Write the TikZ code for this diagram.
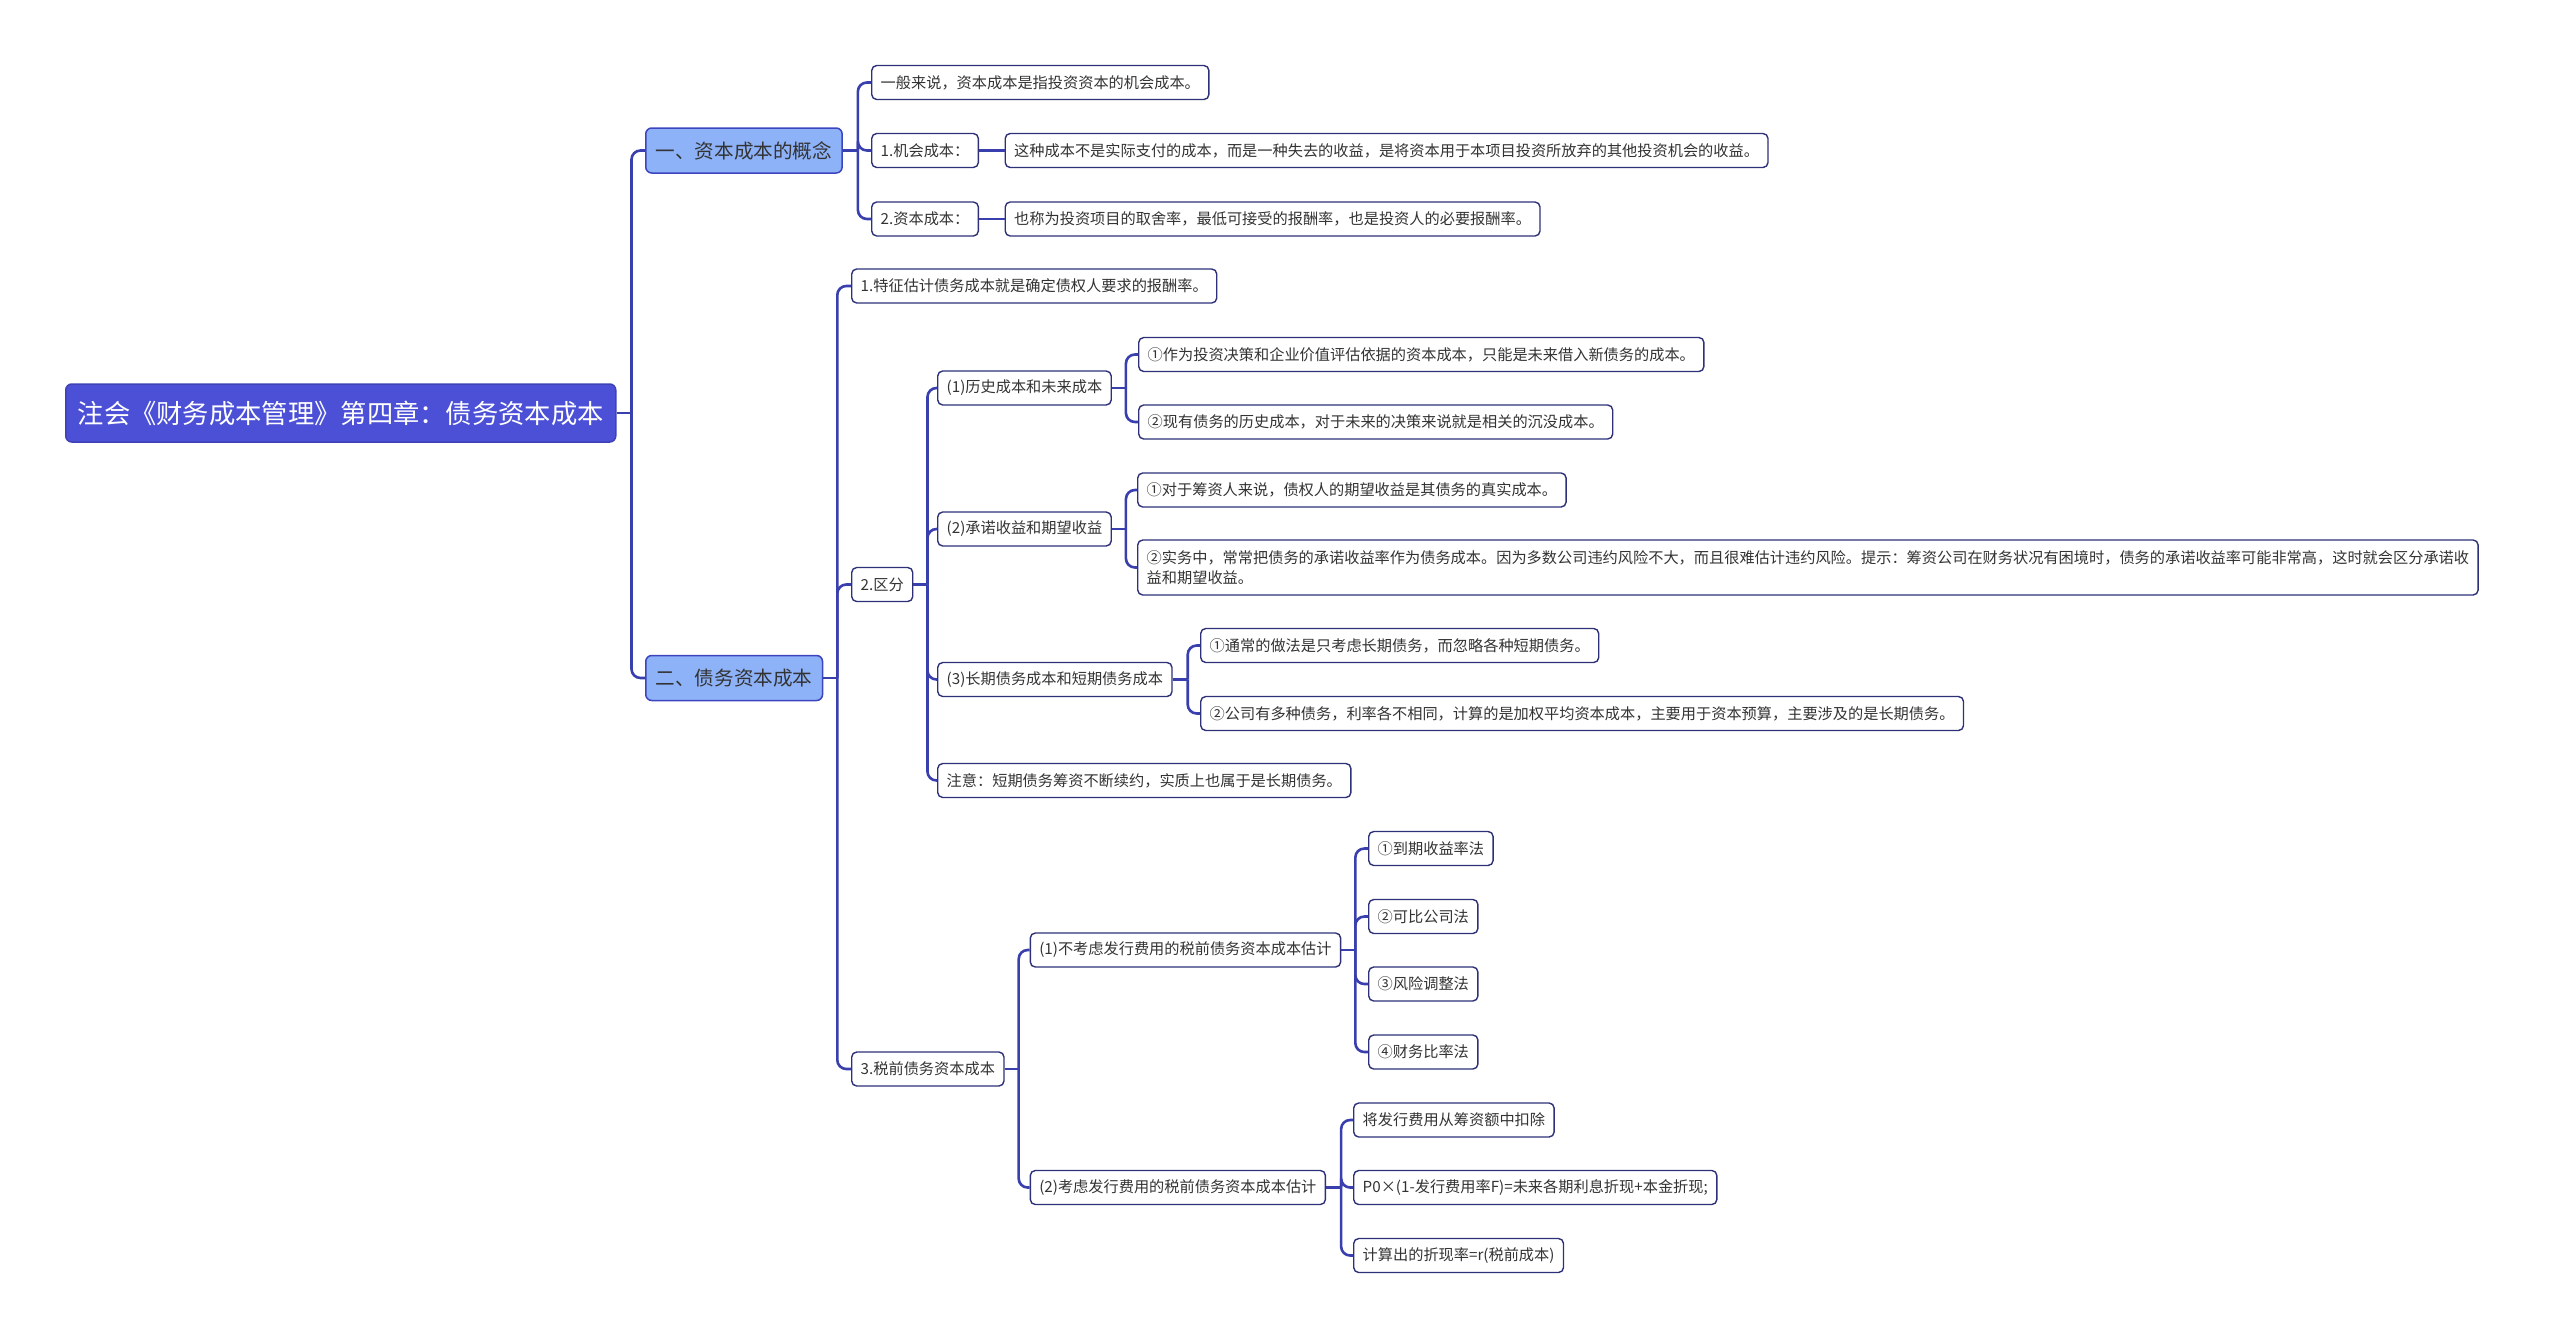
\documentclass[tikz,border=0pt]{standalone}
\usepackage{fontspec}
\setmainfont{Noto Sans CJK SC}
\usepackage{tikz}
\definecolor{rootfill}{HTML}{4B50D6}
\definecolor{rootline}{HTML}{3E42B5}
\definecolor{topicfill}{HTML}{8DB2F8}
\definecolor{topicline}{HTML}{3D45BE}
\definecolor{leafline}{HTML}{2E3178}
\definecolor{linkc}{HTML}{3A3FAE}
\definecolor{textc}{HTML}{333333}

\begin{document}
\begin{tikzpicture}[x=1pt,y=-1pt,
    link/.style={draw=linkc, line width=2.6pt},
    elbow/.style={link, rounded corners=9pt},
    root/.style={anchor=west, fill=rootfill, draw=rootline, line width=1.5pt, rounded corners=6pt,
        text=white, font=\fontsize{26.3}{31}\selectfont, inner xsep=12pt, minimum height=58pt},
    topic/.style={anchor=west, fill=topicfill, draw=topicline, line width=1.5pt, rounded corners=6pt,
        text=textc, font=\fontsize{19.6}{23}\selectfont, inner xsep=10pt, minimum height=45pt},
    leaf/.style={anchor=west, fill=white, draw=leafline, line width=1.4pt, rounded corners=5pt,
        text=textc, font=\fontsize{15.2}{20}\selectfont, inner xsep=9pt, minimum height=34pt}]
  \useasboundingbox (0,0) rectangle (2560,1339);

  % root and the two main topics
  \node[root] (root) at (65,413) {注会《财务成本管理》第四章：债务资本成本};
  \node[topic] (ta) at (645,150.5) {一、资本成本的概念};
  \node[topic] (tb) at (645,678) {二、债务资本成本};

  % 一、资本成本的概念
  \node[leaf] (a1) at (871,82.5) {一般来说，资本成本是指投资资本的机会成本。};
  \node[leaf] (a2) at (871,150.5) {1.机会成本：};
  \node[leaf] (a2x) at (1004.5,150.5) {这种成本不是实际支付的成本，而是一种失去的收益，是将资本用于本项目投资所放弃的其他投资机会的收益。};
  \node[leaf] (a3) at (871,219) {2.资本成本：};
  \node[leaf] (a3x) at (1004.5,219) {也称为投资项目的取舍率，最低可接受的报酬率，也是投资人的必要报酬率。};

  % 二、债务资本成本
  \node[leaf] (b1) at (851,286) {1.特征估计债务成本就是确定债权人要求的报酬率。};
  \node[leaf] (b2) at (851,584.5) {2.区分};
  \node[leaf] (b3) at (851,1069) {3.税前债务资本成本};

  % 2.区分
  \node[leaf] (hist) at (937,388) {(1)历史成本和未来成本};
  \node[leaf] (hist1) at (1138,354.5) {①作为投资决策和企业价值评估依据的资本成本，只能是未来借入新债务的成本。};
  \node[leaf] (hist2) at (1138,422) {②现有债务的历史成本，对于未来的决策来说就是相关的沉没成本。};
  \node[leaf] (yield) at (937,529) {(2)承诺收益和期望收益};
  \node[leaf] (yield1) at (1137,490) {①对于筹资人来说，债权人的期望收益是其债务的真实成本。};
  \node[leaf, align=left, minimum height=55pt] (yield2) at (1137,567.5)
    {②实务中，常常把债务的承诺收益率作为债务成本。因为多数公司违约风险不大，而且很难估计违约风险。提示：筹资公司在财务状况有困境时，债务的承诺收益率可能非常高，这时就会区分承诺收\\益和期望收益。};
  \node[leaf] (term) at (937,679.5) {(3)长期债务成本和短期债务成本};
  \node[leaf] (term1) at (1200,645.5) {①通常的做法是只考虑长期债务，而忽略各种短期债务。};
  \node[leaf] (term2) at (1200,713.5) {②公司有多种债务，利率各不相同，计算的是加权平均资本成本，主要用于资本预算，主要涉及的是长期债务。};
  \node[leaf] (note) at (937,780.5) {注意：短期债务筹资不断续约，实质上也属于是长期债务。};

  % 3.税前债务资本成本
  \node[leaf] (nofee) at (1029.6,950) {(1)不考虑发行费用的税前债务资本成本估计};
  \node[leaf] (m1) at (1368,848.5) {①到期收益率法};
  \node[leaf] (m2) at (1368,916.5) {②可比公司法};
  \node[leaf] (m3) at (1368,984) {③风险调整法};
  \node[leaf] (m4) at (1368,1052) {④财务比率法};
  \node[leaf] (fee) at (1029.6,1187.5) {(2)考虑发行费用的税前债务资本成本估计};
  \node[leaf] (f1) at (1353,1120) {将发行费用从筹资额中扣除};
  \node[leaf] (f2) at (1353,1187.5) {P0×(1-发行费用率F)=未来各期利息折现+本金折现;};
  \node[leaf] (f3) at (1353,1255.5) {计算出的折现率=r(税前成本)};

  % connectors: stub to a trunk, then a rounded elbow into each child
  \draw[link] (root.east) -- ++(15,0) coordinate (root-t);
  \foreach \c in {ta,tb} \draw[elbow] (root-t) |- (\c.west);
  \draw[link] (ta.east) -- ++(15,0) coordinate (ta-t);
  \foreach \c in {a1,a2,a3} \draw[elbow] (ta-t) |- (\c.west);
  \draw[link] (a2.east) -- (a2x.west);
  \draw[link] (a3.east) -- (a3x.west);
  \draw[link] (tb.east) -- ++(14,0) coordinate (tb-t);
  \foreach \c in {b1,b2,b3} \draw[elbow] (tb-t) |- (\c.west);
  \draw[link] (b2.east) -- ++(14,0) coordinate (b2-t);
  \foreach \c in {hist,yield,term,note} \draw[elbow] (b2-t) |- (\c.west);
  \draw[link] (hist.east) -- ++(14,0) coordinate (hist-t);
  \foreach \c in {hist1,hist2} \draw[elbow] (hist-t) |- (\c.west);
  \draw[link] (yield.east) -- ++(14,0) coordinate (yield-t);
  \foreach \c in {yield1,yield2} \draw[elbow] (yield-t) |- (\c.west);
  \draw[link] (term.east) -- ++(15,0) coordinate (term-t);
  \foreach \c in {term1,term2} \draw[elbow] (term-t) |- (\c.west);
  \draw[link] (b3.east) -- ++(14,0) coordinate (b3-t);
  \foreach \c in {nofee,fee} \draw[elbow] (b3-t) |- (\c.west);
  \draw[link] (nofee.east) -- ++(14,0) coordinate (nofee-t);
  \foreach \c in {m1,m2,m3,m4} \draw[elbow] (nofee-t) |- (\c.west);
  \draw[link] (fee.east) -- ++(15,0) coordinate (fee-t);
  \foreach \c in {f1,f2,f3} \draw[elbow] (fee-t) |- (\c.west);
\end{tikzpicture}
\end{document}
